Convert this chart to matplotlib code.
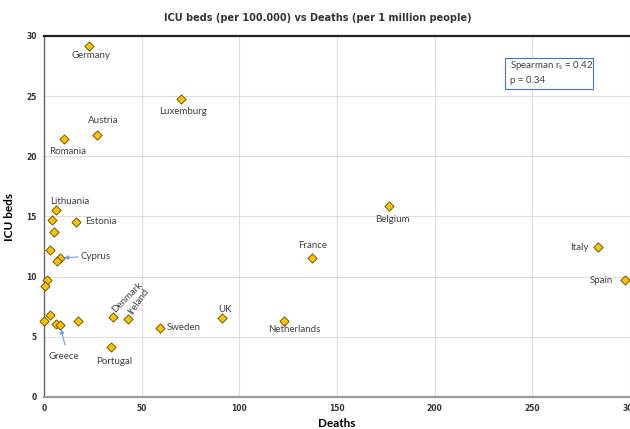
import matplotlib
matplotlib.use('Agg')
import matplotlib.pyplot as plt
from matplotlib.patches import Rectangle

# data: deaths per 1M vs ICU beds per 100k
countries = ['Germany', 'Luxemburg', 'Austria', 'Romania', 'Lithuania', '', 'Estonia', '', '',
             'Cyprus', '', '', '', '', '', '', 'Greece', '', 'Denmark', 'Ireland', 'Portugal',
             'Sweden', 'UK', 'Netherlands', 'France', 'Belgium', 'Italy', 'Spain']
deaths = [23.2, 70.4, 27.3, 10.2, 6.3, 3.9, 16.4, 5.3, 3.1,
          8.2, 6.8, 1.4, 0.5, 0.2, 3.1, 6.1, 8.2, 17.2, 35.1, 43.0, 34.3,
          59.3, 91.0, 123.1, 137.2, 176.5, 283.4, 297.2]
icu_beds = [29.2, 24.8, 21.75, 21.4, 15.5, 14.7, 14.55, 13.75, 12.2,
            11.55, 11.3, 9.7, 9.2, 6.35, 6.85, 6.07, 5.97, 6.35, 6.68, 6.49, 4.17,
            5.77, 6.55, 6.35, 11.57, 15.9, 12.43, 9.7]

# label offsets in pixels (dx, dy, ha, rotation)
label_pos = {
    'Germany': (2, -10, 'center', 0),
    'Luxemburg': (2, -13, 'center', 0),
    'Austria': (6, 15, 'center', 0),
    'Romania': (4, -12, 'center', 0),
    'Lithuania': (13, 9, 'center', 0),
    'Estonia': (9, 0, 'left', 0),
    'Portugal': (3, -15, 'center', 0),
    'Sweden': (7, 0, 'left', 0),
    'UK': (3, 9, 'center', 0),
    'Netherlands': (10, -9, 'center', 0),
    'France': (1, 12, 'center', 0),
    'Belgium': (4, -14, 'center', 0),
    'Italy': (-9, 0, 'right', 0),
    'Spain': (-12, 0, 'right', 0),
}

fig = plt.figure(figsize=(6.3, 4.29), dpi=100)
ax = fig.add_axes([0.0698, 0.0746, 0.9302, 0.8415])

ax.scatter(deaths, icu_beds, marker='D', s=22, color='#FFC000', edgecolors='#5a4a00',
           linewidths=0.6, zorder=3, clip_on=False)

ax.set_xlim(0, 300)
ax.set_ylim(0, 30)
ax.set_xticks(range(0, 301, 50))
ax.set_yticks(range(0, 31, 5))
ax.grid(True, color='#dddddd', linewidth=0.8)
ax.set_axisbelow(True)

ax.spines['right'].set_visible(False)
ax.spines['top'].set_color('#222222')
ax.spines['top'].set_linewidth(1.6)
ax.spines['bottom'].set_color('#999999')
ax.spines['bottom'].set_linewidth(1.6)
ax.spines['left'].set_color('#666666')
ax.spines['left'].set_linewidth(1.0)
ax.tick_params(length=0, labelsize=5.5, pad=5)
for t in ax.get_xticklabels() + ax.get_yticklabels():
    t.set_fontweight('bold')
    t.set_color('#333333')

lab_font = dict(family='Lato', fontsize=7, color='#404040')

for name, x, y in zip(countries, deaths, icu_beds):
    if name in label_pos:
        dx, dy, ha, rot = label_pos[name]
        ax.annotate(name, (x, y), xytext=(dx, dy), textcoords='offset pixels',
                    ha=ha, va='center', rotation=rot, **lab_font)

# rotated labels
ax.annotate('Denmark', (35.1, 6.68), xytext=(4, 2), textcoords='offset pixels',
            ha='left', va='bottom', rotation=45, rotation_mode='anchor', **lab_font)
ax.annotate('Ireland', (43.0, 6.49), xytext=(6, 3), textcoords='offset pixels',
            ha='left', va='bottom', rotation=55, rotation_mode='anchor', **lab_font)

# arrowed labels
arrow = dict(arrowstyle='-|>', color='#6d9eeb', lw=0.8, mutation_scale=6, shrinkA=0, shrinkB=3)
ax.annotate('Cyprus', (8.2, 11.55), xytext=(21, 2), textcoords='offset pixels',
            ha='left', va='center', arrowprops=arrow, **lab_font)
ax.annotate('Greece', (8.2, 5.97), xytext=(4, -31), textcoords='offset pixels',
            ha='center', va='center', **lab_font)
ax.annotate('', (8.2, 5.97), xytext=(5, -20), textcoords='offset pixels', arrowprops=arrow)

ax.set_xlabel('Deaths', family='Lato', fontsize=8.5, fontweight='bold', labelpad=4)
ax.set_ylabel('ICU beds', family='Lato', fontsize=8.5, fontweight='bold', labelpad=8)
fig.text(0.505, 0.958, 'ICU beds (per 100.000) vs Deaths (per 1 million people)',
         ha='center', va='center', fontsize=7, fontweight='bold', color='#333333')

# stats box
ax.add_patch(Rectangle((0.787, 0.853), 0.150, 0.086, transform=ax.transAxes, fill=True,
                       facecolor='white', edgecolor='#4472C4', linewidth=0.8, zorder=4))
ax.text(0.795, 0.917, 'Spearman r$_\\mathregular{s}$ = 0.42', transform=ax.transAxes,
        ha='left', va='center', zorder=5, **lab_font)
ax.text(0.795, 0.877, 'p = 0.34', transform=ax.transAxes,
        ha='left', va='center', zorder=5, **lab_font)

fig.savefig('out.png', dpi=100)
